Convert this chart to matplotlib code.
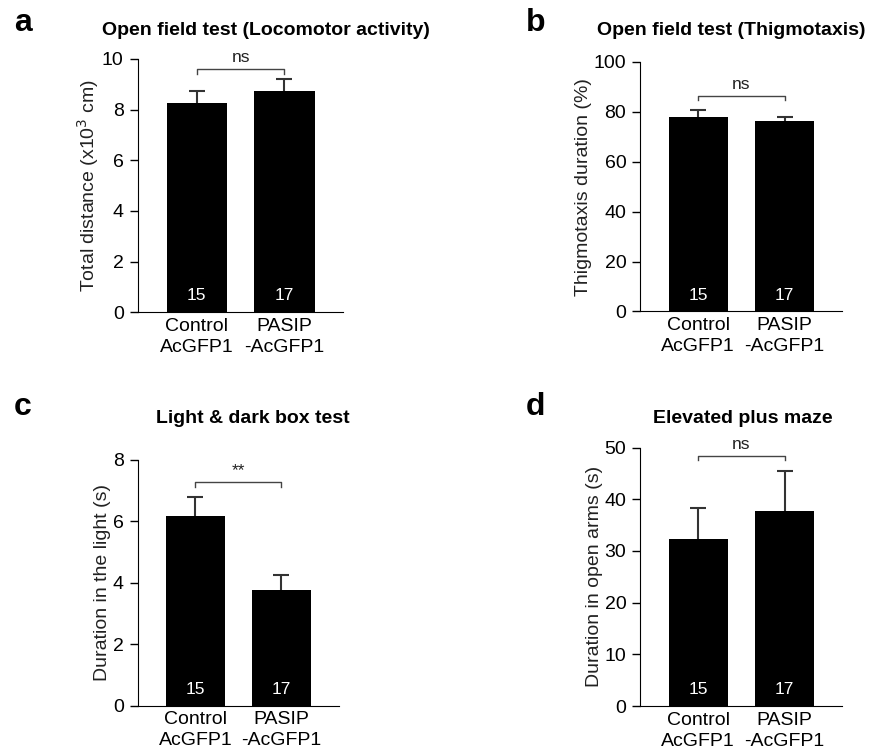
import numpy as np
import matplotlib
matplotlib.use("Agg")
import matplotlib.pyplot as plt

plt.rcParams['font.family'] = ['Liberation Sans', 'DejaVu Sans']

# Datos
groups = ['Control\nAcGFP1', 'PASIP\n-AcGFP1']
n_labels = ['15', '17']

dist_mean = [8.25, 8.75]
dist_sem = [0.48, 0.45]
thig_mean = [77.8, 76.4]
thig_sem = [2.9, 1.4]
light_mean = [6.18, 3.75]
light_sem = [0.61, 0.51]
epm_mean = [32.3, 37.7]
epm_sem = [6.0, 7.8]

fig = plt.figure(figsize=(8.71, 7.56), dpi=100)

# letra, rect, titulo, posicion del titulo, ylabel, medias, errores, ylim, ticks, corchete, caida, signo
paneles = [
    ('a', [0.158, 0.587, 0.236, 0.335], 'Open field test (Locomotor activity)', (0.305, 0.960),
     r'Total distance (x10$^3$ cm)', dist_mean, dist_sem, 10, np.arange(0, 11, 2), 9.6, 0.2, 'ns'),
    ('b', [0.735, 0.588, 0.232, 0.330], 'Open field test (Thigmotaxis)', (0.840, 0.960),
     'Thigmotaxis duration (%)', thig_mean, thig_sem, 100, np.arange(0, 101, 20), 86.3, 1.6, 'ns'),
    ('c', [0.158, 0.0666, 0.231, 0.325], 'Light & dark box test', (0.290, 0.446),
     'Duration in the light (s)', light_mean, light_sem, 8, np.arange(0, 9, 2), 7.27, 0.16, '**'),
    ('d', [0.735, 0.066, 0.232, 0.342], 'Elevated plus maze', (0.853, 0.446),
     'Duration in open arms (s)', epm_mean, epm_sem, 50, np.arange(0, 51, 10), 48.4, 0.9, 'ns'),
]

x = np.arange(len(groups))

for letra, rect, titulo, tpos, ylab, medias, errores, ytop, ticks, yb, caida, sig in paneles:
    ax = fig.add_axes(rect)
    ax.bar(x, medias, width=0.686, color='black', zorder=2)
    eb = ax.errorbar(x, medias, yerr=[[0, 0], errores], fmt='none', ecolor='#333333',
                     elinewidth=1.5, capsize=6, capthick=1.5, zorder=1)
    # quitar las tapas inferiores (solo error hacia arriba)
    for cap in eb[1]:
        if np.allclose(cap.get_ydata(), medias):
            cap.set_visible(False)
    for xi, n in zip(x, n_labels):
        ax.text(xi, ytop * 0.065, n, color='white', ha='center', va='center', fontsize=12.5)

    # Corchete de significancia
    ax.plot([0, 0, 1, 1], [yb - caida, yb, yb, yb - caida], color='#444444', linewidth=1)
    ax.annotate(sig, (0.5, yb), xytext=(0, 3), textcoords='offset points',
                ha='center', va='bottom', fontsize=12.5, color='#222222')

    ax.set_xlim(-0.674, 1.669)
    ax.set_ylim(0, ytop)
    ax.set_yticks(ticks)
    ax.set_xticks(x)
    ax.set_xticklabels(groups, fontsize=14, linespacing=1.3)
    ax.tick_params(axis='x', length=0, pad=4)
    ax.tick_params(axis='y', labelsize=14, length=6, width=1, pad=4)
    ax.set_ylabel(ylab, fontsize=14, color='#222222', labelpad=1)
    ax.spines['top'].set_visible(False)
    ax.spines['right'].set_visible(False)

    fig.text(tpos[0], tpos[1], titulo, ha='center', va='center', fontsize=14, fontweight='bold')

fig.text(0.026, 0.970, 'a', fontsize=23, fontweight='bold', va='center', ha='center')
fig.text(0.615, 0.970, 'b', fontsize=23, fontweight='bold', va='center', ha='center')
fig.text(0.026, 0.462, 'c', fontsize=23, fontweight='bold', va='center', ha='center')
fig.text(0.615, 0.462, 'd', fontsize=23, fontweight='bold', va='center', ha='center')

plt.savefig("out.png", dpi=100)
